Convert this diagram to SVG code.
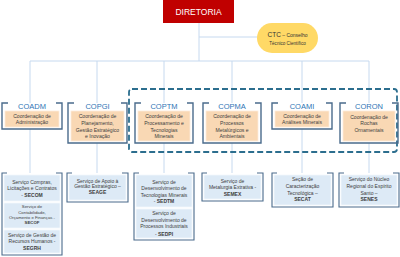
<svg xmlns="http://www.w3.org/2000/svg" width="400" height="257" viewBox="0 0 400 257">
<style>
text{font-family:"Liberation Sans",Arial,sans-serif;text-anchor:middle}
.bus{stroke:#C6D9EF;stroke-width:1;fill:none}
.fr2{fill:none;stroke:#4A6B8C;stroke-width:1.4}
.fr3{fill:none;stroke:#4A6B8C;stroke-width:1.1}
.or{fill:#F9D8B4;stroke:#FCEBD9;stroke-width:0.8}
.sv{fill:#DDEAF6;stroke:#F3F8FC;stroke-width:0.8}
.lab{font-size:7.5px;fill:#2E74B5}
.t{font-size:5.1px;fill:#404040}
.s{font-size:5px;fill:#404040}
.ss{font-size:4.3px;fill:#404040}
.b{font-weight:bold}
</style>
<g id="connectors">
<path class="bus" d="M199 23V61M199 37H258M30 61H369M30 61V103M97 61V103M164 61V103M232 61V103M302 61V103M369 61V103"/>
<path class="bus" d="M30 129V173M97 143V173M164 143V173M232 143V173M302 129V173M369 143V173"/>
</g>
<rect id="grupo" x="129" y="89" width="268" height="63" rx="3" fill="none" stroke="#2C6E8E" stroke-width="1.8" stroke-dasharray="6 3"/>
<g id="diretoria">
<rect x="163" y="0" width="71" height="23" fill="#C00000"/>
<text x="198.5" y="15" style="font-size:8.5px;fill:#fff">DIRETORIA</text>
</g>
<g id="ctc">
<rect x="257" y="23" width="61" height="30" rx="15" fill="#FFD966"/>
<text x="287.5" y="37"><tspan style="font-size:6.5px;fill:#333">CTC</tspan><tspan style="font-size:5px;fill:#333"> – Conselho</tspan></text>
<text x="287.5" y="45" style="font-size:4.6px;fill:#333">Técnico Científico</text>
</g>
<g id="coadm">
<path class="fr2" d="M8 103H2V129H62V103H56"/>
<text class="lab" x="32" y="108.5">COADM</text>
<rect class="or" x="5" y="111" width="54" height="16"/>
<text class="t" x="32" y="118">Coordenação de</text>
<text class="t" x="32" y="124">Administração</text>
</g>
<g id="copgi">
<path class="fr2" d="M74 103H68V143H127V103H121"/>
<text class="lab" x="97.5" y="108.5">COPGI</text>
<rect class="or" x="71" y="111" width="53" height="30"/>
<text class="t" x="97.5" y="118">Coordenação de</text>
<text class="t" x="97.5" y="124.6">Planejamento,</text>
<text class="t" x="97.5" y="131.5">Gestão Estratégico</text>
<text class="t" x="97.5" y="138.2">e Inovação</text>
</g>
<g id="coptm">
<path class="fr2" d="M141 103H135V143H193V103H187"/>
<text class="lab" x="164" y="108.5">COPTM</text>
<rect class="or" x="138" y="111" width="52" height="30"/>
<text class="t" x="164" y="118">Coordenação de</text>
<text class="t" x="164" y="124.6">Processamento e</text>
<text class="t" x="164" y="131.5">Tecnologias</text>
<text class="t" x="164" y="138.2">Minerais</text>
</g>
<g id="copma">
<path class="fr2" d="M209 103H203V143H261V103H255"/>
<text class="lab" x="232" y="108.5">COPMA</text>
<rect class="or" x="206" y="111" width="52" height="30"/>
<text class="t" x="232" y="118">Coordenação de</text>
<text class="t" x="232" y="124.6">Processos</text>
<text class="t" x="232" y="131.5">Metalúrgicos e</text>
<text class="t" x="232" y="138.2">Ambientais</text>
</g>
<g id="coami">
<path class="fr2" d="M278 103H272V129H332V103H326"/>
<text class="lab" x="302" y="108.5">COAMI</text>
<rect class="or" x="275" y="111" width="54" height="16"/>
<text class="t" x="302" y="118">Coordenação de</text>
<text class="t" x="302" y="124">Análises Minerais</text>
</g>
<g id="coron">
<path class="fr2" d="M346 103H340V143H398V103H392"/>
<text class="lab" x="369" y="108.5">CORON</text>
<rect class="or" x="343" y="111" width="52" height="30"/>
<text class="t" x="369" y="118.5">Coordenação de</text>
<text class="t" x="369" y="125">Rochas</text>
<text class="t" x="369" y="131.8">Ornamentais</text>
</g>
<g id="servicos-coadm">
<path class="fr3" d="M7 173H2V255H62V173H56"/>
<rect class="sv" x="4" y="175" width="56" height="26"/>
<text class="s" x="32" y="183.8">Serviço Compras,</text>
<text class="s" x="32" y="190.3">Licitações e Contratos</text>
<text class="s" x="32" y="197"><tspan>- </tspan><tspan class="b">SECOM</tspan></text>
<rect class="sv" x="4" y="203" width="56" height="25"/>
<text class="ss" x="32" y="208.3">Serviço de</text>
<text class="ss" x="32" y="214">Contabilidade,</text>
<text class="ss" x="32" y="219.3">Orçamento e Finanças -</text>
<text class="ss b" x="32" y="224">SECOF</text>
<rect class="sv" x="4" y="230" width="56" height="23"/>
<text class="s" x="32" y="237">Serviço de Gestão de</text>
<text class="s" x="32" y="243.4">Recursos Humanos -</text>
<text class="s b" x="32" y="250">SEGRH</text>
</g>
<g id="servicos-copgi">
<path class="fr3" d="M72 173H67V202H128V173H122"/>
<rect class="sv" x="69" y="175" width="57" height="25"/>
<text class="s" x="97.5" y="182.5">Serviço de Apoio à</text>
<text class="s" x="97.5" y="188.3">Gestão Estratégico –</text>
<text class="s b" x="97.5" y="194.2">SEAGE</text>
</g>
<g id="servicos-coptm">
<path class="fr3" d="M139 173H134V240H194V173H188"/>
<rect class="sv" x="136" y="175" width="56" height="32"/>
<text class="s" x="164" y="183.5">Serviço de</text>
<text class="s" x="164" y="190">Desenvolvimento de</text>
<text class="s" x="164" y="196.5">Tecnologias Minerais</text>
<text class="s" x="164" y="203.2"><tspan>- </tspan><tspan class="b">SEDTM</tspan></text>
<rect class="sv" x="136" y="209" width="56" height="29"/>
<text class="s" x="164" y="214.6">Serviço de</text>
<text class="s" x="164" y="221.6">Desenvolvimento de</text>
<text class="s" x="164" y="228.4">Processos Industriais</text>
<text class="s" x="164" y="235.6"><tspan>- </tspan><tspan class="b">SEDPI</tspan></text>
</g>
<g id="servicos-copma">
<path class="fr3" d="M207 173H202V201H263V173H257"/>
<rect class="sv" x="204" y="175" width="57" height="24"/>
<text class="s" x="232.5" y="182.5">Serviço de</text>
<text class="s" x="232.5" y="189.3">Metalurgia Extrativa -</text>
<text class="s b" x="232.5" y="195.8">SEMEX</text>
</g>
<g id="servicos-coami">
<path class="fr3" d="M277 173H272V207H333V173H327"/>
<rect class="sv" x="274" y="175" width="57" height="30"/>
<text class="s" x="302.5" y="181">Seção de</text>
<text class="s" x="302.5" y="187.7">Caracterização</text>
<text class="s" x="302.5" y="194.5">Tecnológica –</text>
<text class="s b" x="302.5" y="201">SECAT</text>
</g>
<g id="servicos-coron">
<path class="fr3" d="M344 173H339V207H399V173H393"/>
<rect class="sv" x="341" y="175" width="56" height="30"/>
<text class="s" x="369" y="181">Serviço do Núcleo</text>
<text class="s" x="369" y="187.7">Regional do Espírito</text>
<text class="s" x="369" y="194.5">Santo –</text>
<text class="s b" x="369" y="201">SENES</text>
</g>
</svg>
